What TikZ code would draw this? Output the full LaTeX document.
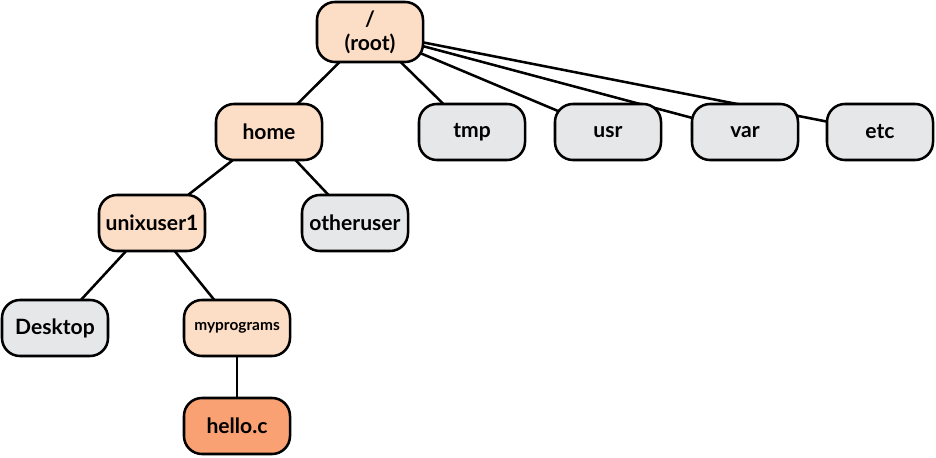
\documentclass[tikz,border=0pt]{standalone}
\usepackage{fontspec}
\setmainfont{Lato}
\usepackage{tikz}
\usetikzlibrary{positioning,backgrounds}
\definecolor{dirpeach}{HTML}{FCDDC6}
\definecolor{fileorange}{HTML}{F9A172}
\definecolor{dirgray}{HTML}{E6E7E9}

\begin{document}
\begin{tikzpicture}[
  x=0.025cm, y=-0.025cm,
  font=\fontsize{15}{17}\selectfont\bfseries,
  dir/.style={rectangle,rounded corners=0.45cm,draw,line width=1.8pt,minimum height=1.4cm,minimum width=2.65cm,align=center,inner sep=2pt},
  onpath/.style={dir,fill=dirpeach},
  other/.style={dir,fill=dirgray},
  target/.style={dir,fill=fileorange},
  branch/.style={line width=1.8pt,black},
]
\useasboundingbox (0,0) rectangle (936,458);
% Top row: root
\node[onpath,minimum height=1.5cm] (root) at (370, 32) {/\\(root)};
% Second row: top level folders
\node[onpath] (home) at (269,132) {home};
\node[other] (tmp)   at (472,132) {tmp};
\node[other] (usr)   at (608,132) {usr};
\node[other] (var)   at (745,132) {var};
\node[other] (etc)   at (880,132) {etc};
% Third row: users
\node[onpath] (unixuser) at (152,223) {unixuser1};
\node[other] (otheruser) at (355,223) {otheruser};
% Fourth row: inside unixuser1
\node[other] (desktop)     at (55, 328) {Desktop};
\node[onpath] (myprograms) at (237,328) {\fontsize{11}{13}\selectfont myprograms};
% Bottom row: the file
\node[target] (hello) at (237,426) {hello.c};

% Branches, behind the boxes
\begin{scope}[on background layer]
\foreach \sub in {home,tmp,usr,var,etc}
  \draw[branch] (root.center) -- (\sub.center);
\draw[branch] (home.center) -- (unixuser.center);
\draw[branch] (home.center) -- (otheruser.center);
\draw[branch] (unixuser.center) -- (desktop.center);
\draw[branch] (unixuser.center) -- (myprograms.center);
\draw[branch] (myprograms.center) -- (hello.center);
\end{scope}
\end{tikzpicture}
\end{document}
